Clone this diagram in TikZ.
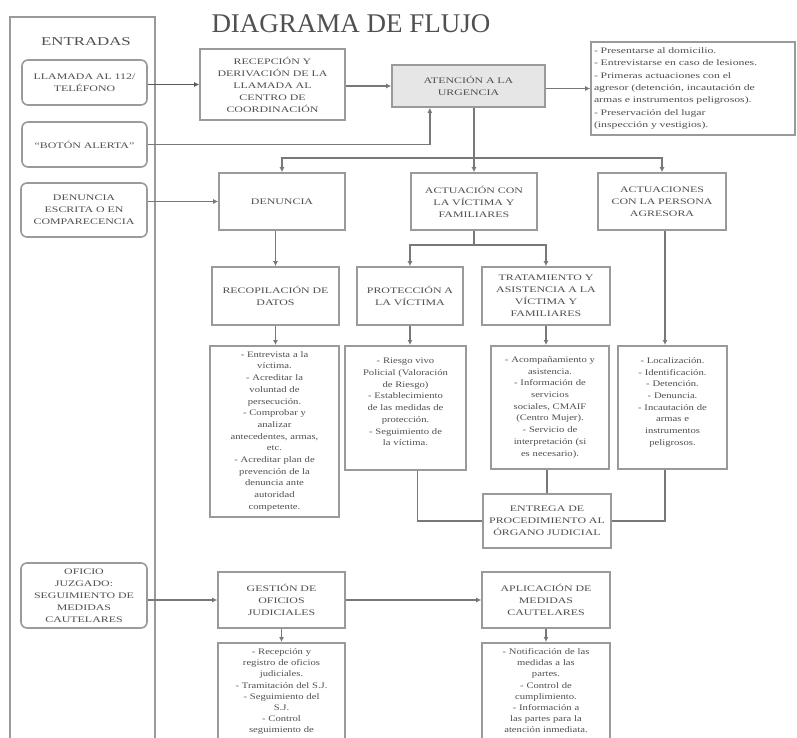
\documentclass[tikz,border=0pt]{standalone}
\usepackage{fontspec}
\setmainfont{Liberation Serif}
\newfontfamily\LabelFamily[FakeStretch = 1.4]{Liberation Serif}
\newfontfamily\DetailFamily[FakeStretch = 1.25]{Liberation Serif}
\usepackage{xcolor}
\usepackage{tikz}
\usetikzlibrary{positioning, arrows.meta, calc}

\definecolor{boxgray}{HTML}{9A9A9A}
\definecolor{linegray}{HTML}{787878}
\definecolor{textgray}{HTML}{505050}
\definecolor{urgfill}{HTML}{E6E6E6}
\newcommand{\LabelFont}{\LabelFamily\fontsize{8.5}{12}\selectfont}
\newcommand{\DetailFont}{\DetailFamily\fontsize{8.5}{11.7}\selectfont}
\newcommand{\ListFont}{\LabelFamily\fontsize{8.4}{12.3}\selectfont}

\tikzset{
    procbox/.style = {draw = boxgray, line width = 1.6pt, align = center, inner sep = 2pt, font = \LabelFont, text = textgray},
    detailbox/.style = {procbox, font = \DetailFont},
    entrybox/.style = {procbox, rounded corners = 6pt},
    flowline/.style = {draw = linegray, line width = 1.3pt},
    flowarrow/.style = {flowline, -{Latex[length = 5pt, width = 5pt]}}
}

\begin{document}
\begin{tikzpicture}[x = 1pt, y = -1pt]
    \useasboundingbox (0, 0) rectangle (797, 738);
    \clip (0, 0) rectangle (797, 738);
    \fill[white] (0, 0) rectangle (797, 738);

    % draw title and input column
    \node[font = \fontsize{27}{29}\selectfont, text = textgray] (title) at (351, 24) {DIAGRAMA DE FLUJO};
    \draw[draw = boxgray, line width = 1.6pt] (10, 17) rectangle (155, 800);
    \node[font = \LabelFamily\fontsize{12}{14}\selectfont, text = textgray] (entradas) at (86, 42) {ENTRADAS};

    \node[entrybox, minimum width = 125pt, minimum height = 45pt, text width = 120pt] (llamada) at (84.5, 82.5) {LLAMADA AL 112/\\ TELÉFONO};
    \node[entrybox, minimum width = 125pt, minimum height = 45pt, text width = 120pt] (alerta) at (84.5, 144.5) {“BOTÓN ALERTA”};
    \node[entrybox, minimum width = 126pt, minimum height = 54pt, text width = 120pt] (denEscrita) at (84, 210) {DENUNCIA\\ ESCRITA O EN\\ COMPARECENCIA};
    \node[entrybox, minimum width = 126pt, minimum height = 65pt, text width = 120pt] (oficio) at (84, 595.5) {OFICIO\\ JUZGADO:\\ SEGUIMIENTO DE\\ MEDIDAS\\ CAUTELARES};

    % draw first row
    \node[procbox, minimum width = 145pt, minimum height = 71pt, text width = 140pt] (recepcion) at (272.5, 84.5) {RECEPCIÓN Y\\ DERIVACIÓN DE LA\\ LLAMADA AL\\ CENTRO DE\\ COORDINACIÓN};
    \node[procbox, fill = urgfill, minimum width = 153pt, minimum height = 42pt, text width = 145pt] (urgencia) at (468.5, 86) {ATENCIÓN A LA\\ URGENCIA};
    \node[procbox, font = \ListFont, align = left, minimum width = 204pt, minimum height = 93pt, text width = 198pt] (acciones) at (693, 88.5) {- Presentarse al domicilio.\\ - Entrevistarse en caso de lesiones.\\ - Primeras actuaciones con el\\ agresor (detención, incautación de\\ armas e instrumentos peligrosos).\\ - Preservación del lugar\\ (inspección y vestigios).};

    % draw second row
    \node[procbox, minimum width = 126pt, minimum height = 57pt, text width = 122pt] (denuncia) at (282, 201.5) {DENUNCIA};
    \node[procbox, minimum width = 126pt, minimum height = 57pt, text width = 122pt] (victima) at (474, 201.5) {ACTUACIÓN CON\\ LA VÍCTIMA Y\\ FAMILIARES};
    \node[procbox, minimum width = 128pt, minimum height = 57pt, text width = 124pt] (agresora) at (662, 201.5) {ACTUACIONES\\ CON LA PERSONA\\ AGRESORA};

    % draw third row
    \node[procbox, minimum width = 127pt, minimum height = 58pt, text width = 123pt] (recopilacion) at (275.5, 296) {RECOPILACIÓN DE\\ DATOS};
    \node[procbox, minimum width = 106pt, minimum height = 58pt, text width = 102pt] (proteccion) at (410, 296) {PROTECCIÓN A\\ LA VÍCTIMA};
    \node[procbox, minimum width = 128pt, minimum height = 58pt, text width = 124pt] (tratamiento) at (546, 296) {TRATAMIENTO Y\\ ASISTENCIA A LA\\ VÍCTIMA Y\\ FAMILIARES};

    % draw detail boxes
    \node[detailbox, anchor = north, minimum width = 129pt, minimum height = 171pt, text width = 124pt] (recopDet) at (274.5, 345) {- Entrevista a la\\ víctima.\\ - Acreditar la\\ voluntad de\\ persecución.\\ - Comprobar y\\ analizar\\ antecedentes, armas,\\ etc.\\ - Acreditar plan de\\ prevención de la\\ denuncia ante\\ autoridad\\ competente.};
    \node[detailbox, anchor = north, minimum width = 121pt, minimum height = 124pt, text width = 116pt] (protDet) at (405.5, 345) {- Riesgo vivo\\ Policial (Valoración\\ de Riesgo)\\ - Establecimiento\\ de las medidas de\\ protección.\\ - Seguimiento de\\ la víctima.\\ ~};
    \node[detailbox, anchor = north, minimum width = 118pt, minimum height = 123pt, text width = 114pt] (tratDet) at (550, 345) {- Acompañamiento y\\ asistencia.\\ - Información de\\ servicios\\ sociales, CMAIF\\ (Centro Mujer).\\ - Servicio de\\ interpretación (si\\ es necesario).};
    \node[detailbox, anchor = north, minimum width = 109pt, minimum height = 123pt, text width = 105pt] (agreDet) at (672.5, 345) {- Localización.\\ - Identificación.\\ - Detención.\\ - Denuncia.\\ - Incautación de\\ armas e\\ instrumentos\\ peligrosos.\\ ~};
    \node[procbox, minimum width = 128pt, minimum height = 54pt, text width = 124pt] (entrega) at (547, 521) {ENTREGA DE\\ PROCEDIMIENTO AL\\ ÓRGANO JUDICIAL};

    % draw bottom section
    \node[procbox, minimum width = 127pt, minimum height = 56pt, text width = 123pt] (gestion) at (281.5, 600) {GESTIÓN DE\\ OFICIOS\\ JUDICIALES};
    \node[procbox, minimum width = 128pt, minimum height = 56pt, text width = 124pt] (aplicacion) at (546, 600) {APLICACIÓN DE\\ MEDIDAS\\ CAUTELARES};
    \node[detailbox, anchor = north, inner ysep = 6pt, minimum width = 127pt, text width = 120pt] (gestDet) at (281.5, 642) {\begin{minipage}[t][150pt][t]{120pt}\centering\DetailFamily\fontsize{8.5}{11.1}\selectfont - Recepción y\\ registro de oficios\\ judiciales.\\ - Tramitación del S.J.\\ - Seguimiento del\\ S.J.\\ - Control\\ seguimiento de\end{minipage}};
    \node[detailbox, anchor = north, inner ysep = 6pt, minimum width = 128pt, text width = 120pt] (aplDet) at (546, 642) {\begin{minipage}[t][150pt][t]{120pt}\centering\DetailFamily\fontsize{8.5}{11.1}\selectfont - Notificación de las\\ medidas a las\\ partes.\\ - Control de\\ cumplimiento.\\ - Información a\\ las partes para la\\ atención inmediata.\end{minipage}};

    % draw connectors of the first row
    \draw[flowarrow, draw = black!65, line width = 1.8pt] (llamada.east |- recepcion.west) -- (recepcion.west);
    \draw[flowarrow] (recepcion.east |- urgencia.west) -- (urgencia.west);
    \draw[flowarrow] (urgencia.east |- acciones.west) -- (acciones.west);
    \draw[flowarrow] (alerta.east) -| ($(urgencia.south west)!0.25!(urgencia.south east)$);

    % draw split towards the second row
    \coordinate (split) at (474, 158);
    \draw[flowline] (urgencia.south -| split) -- (split);
    \draw[flowarrow] (split) -| (denuncia.north);
    \draw[flowarrow] (split) -- (victima.north);
    \draw[flowarrow] (split) -| (agresora.north);
    \draw[flowarrow] (denEscrita.east |- denuncia.west) -- (denuncia.west);

    % draw connectors of the third row
    \draw[flowarrow] (recopilacion.north |- denuncia.south) -- (recopilacion.north);
    \coordinate (splitVic) at (474, 245);
    \draw[flowline] (victima.south) -- (splitVic);
    \draw[flowarrow] (splitVic) -| (proteccion.north);
    \draw[flowarrow] (splitVic) -| (tratamiento.north);

    % draw connectors to the detail boxes
    \draw[flowarrow] (recopilacion.south) -- (recopilacion.south |- recopDet.north);
    \draw[flowarrow] (proteccion.south) -- (proteccion.south |- protDet.north);
    \draw[flowarrow] (tratamiento.south) -- (tratamiento.south |- tratDet.north);
    \draw[flowarrow] (agresora.south -| 665, 0) -- (665, 345);

    % draw connectors to the delivery box
    \draw[flowline] (entrega.north |- tratDet.south) -- (entrega.north);
    \draw[flowline] ([xshift = 12pt]protDet.south) |- (entrega.west);
    \draw[flowline] (agreDet.south -| 665, 0) |- (entrega.east);

    % draw connectors of the bottom section
    \draw[flowarrow] (oficio.east |- gestion.west) -- (gestion.west);
    \draw[flowarrow] (gestion.east) -- (aplicacion.west);
    \draw[flowarrow] (gestion.south) -- (gestDet.north);
    \draw[flowarrow] (aplicacion.south) -- (aplDet.north);
\end{tikzpicture}
\end{document}
